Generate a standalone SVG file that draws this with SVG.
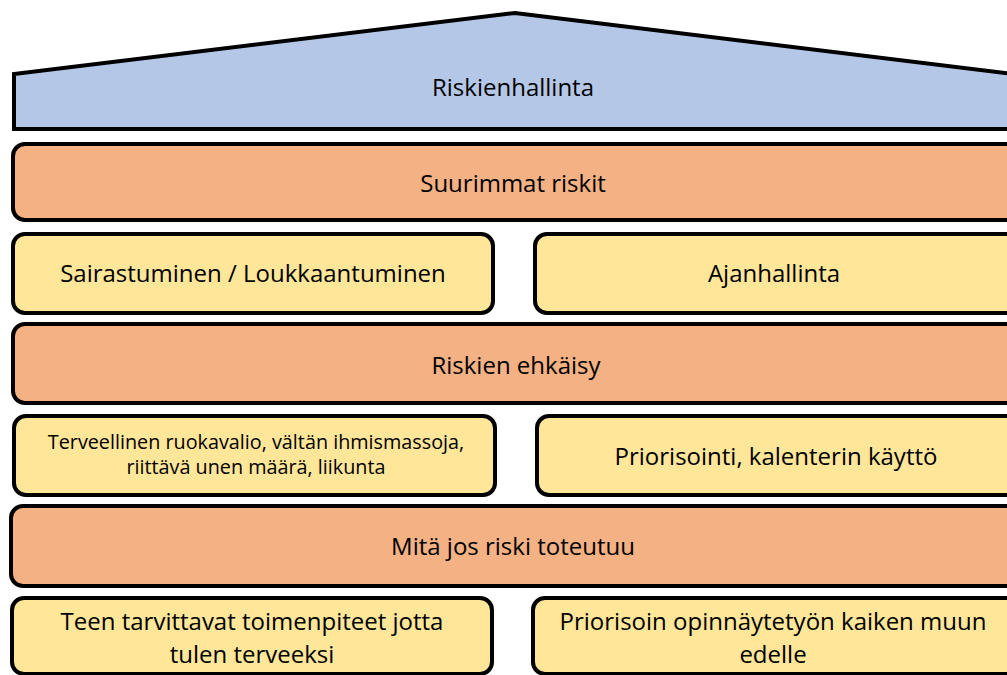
<svg xmlns="http://www.w3.org/2000/svg" width="1007" height="675" viewBox="0 0 1007 675">
<style>
.o{fill:#F4B183;stroke:#000;stroke-width:4}
.y{fill:#FFE699;stroke:#000;stroke-width:4}
.r{fill:#B4C7E7;stroke:#000;stroke-width:4;stroke-linejoin:miter}
text{font-family:"Open Sans",Lato,"Liberation Sans",sans-serif;font-size:24px;fill:#000;text-anchor:middle}
.s{font-size:19.8px}
</style>
<rect width="1007" height="675" fill="#fff"/>
<g id="roof"><path class="r" d="M14,129 L14,74 L515,13 L1030,76 L1030,129 Z"/><text x="513" y="96">Riskienhallinta</text></g>
<g id="suurimmat"><rect class="o" x="13" y="144" width="1020" height="76" rx="12"/><text x="513" y="192">Suurimmat riskit</text></g>
<g id="sairastuminen"><rect class="y" x="13" y="234" width="480" height="79" rx="12"/><text x="253" y="282">Sairastuminen / Loukkaantuminen</text></g>
<g id="ajanhallinta"><rect class="y" x="535" y="234" width="490" height="79" rx="12"/><text x="774" y="282">Ajanhallinta</text></g>
<g id="ehkaisy"><rect class="o" x="13" y="324" width="1020" height="79" rx="12"/><text x="516" y="374">Riskien ehkäisy</text></g>
<g id="terveellinen"><rect class="y" x="14" y="416" width="481" height="79" rx="12"/><text class="s" x="256" y="449">Terveellinen ruokavalio, vältän ihmismassoja,</text><text class="s" x="256" y="474">riittävä unen määrä, liikunta</text></g>
<g id="priorisointi"><rect class="y" x="537" y="416" width="490" height="79" rx="12"/><text x="776" y="465">Priorisointi, kalenterin käyttö</text></g>
<g id="mita"><rect class="o" x="11" y="506" width="1020" height="80" rx="12"/><text x="513" y="555">Mitä jos riski toteutuu</text></g>
<g id="teen"><rect class="y" x="12" y="598" width="480" height="76" rx="12"/><text x="252" y="630">Teen tarvittavat toimenpiteet jotta</text><text x="252" y="663">tulen terveeksi</text></g>
<g id="priorisoin"><rect class="y" x="533" y="598" width="494" height="76" rx="12"/><text x="773" y="630">Priorisoin opinnäytetyön kaiken muun</text><text x="773" y="663">edelle</text></g>
<g id="connectors"></g>
</svg>
